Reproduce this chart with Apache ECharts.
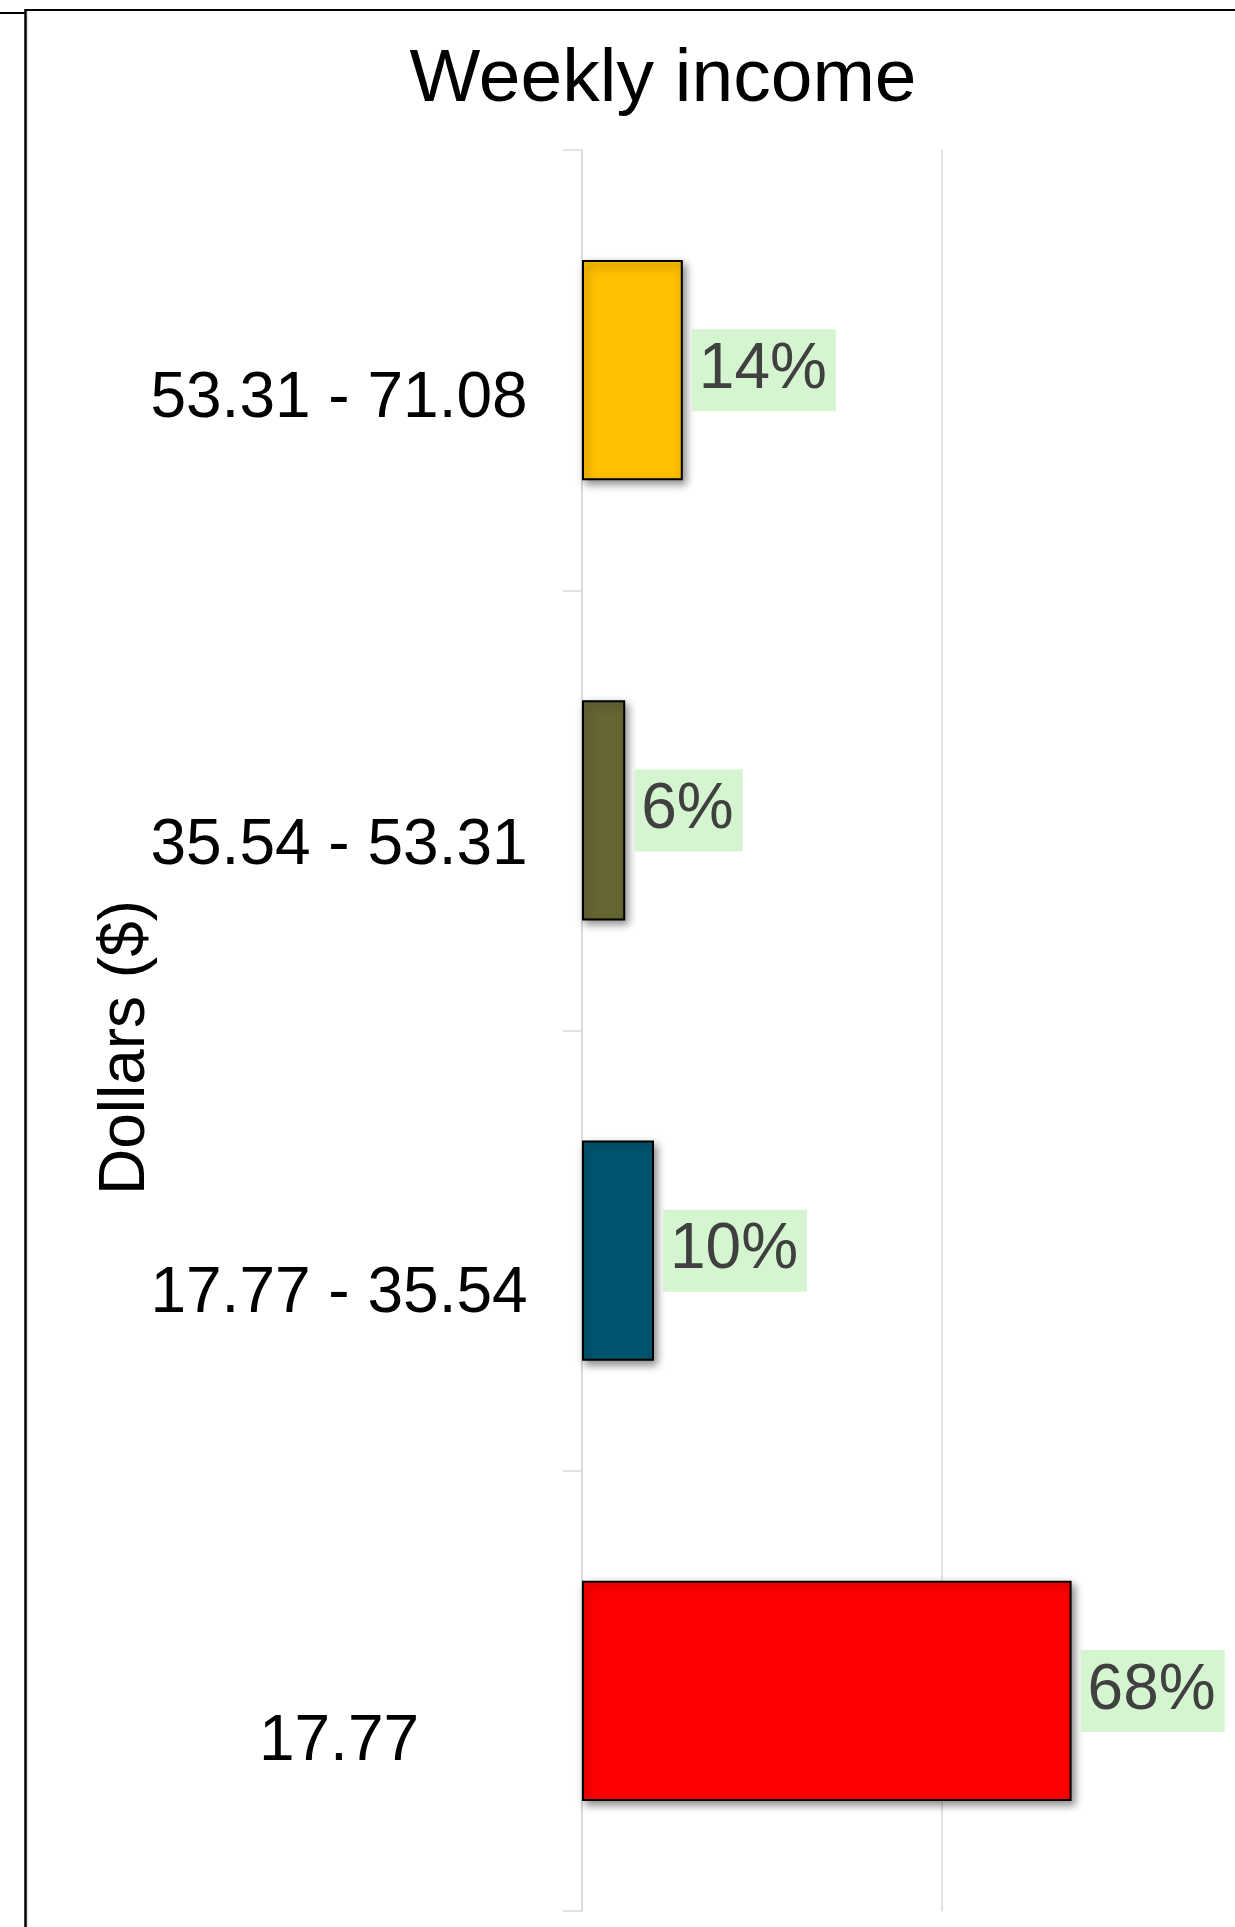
<!DOCTYPE html>
<html>
<head>
<meta charset="utf-8">
<title>Weekly income</title>
<script src="https://cdn.jsdelivr.net/npm/echarts@6/dist/echarts.min.js"></script>
<style>
  html, body { margin: 0; padding: 0; background: #fff; }
  #chart { width: 1235px; height: 1927px; }
</style>
</head>
<body>
<div id="chart"></div>
<script>
// Income brackets, listed top to bottom
const categories = ['53.31 - 71.08', '35.54 - 53.31', '17.77 - 35.54', '17.77'];
// Share of respondents in each bracket (%)
const shares = [14, 6, 10, 68];
const barColors = ['#FFC000', '#666633', '#00566F', '#FF0000'];
// Downward nudge of each bracket label (px)
const labelNudge = [29, 36, 44, 51];
const valueTicks = [0, 50, 100];

const FONT = '"Liberation Sans", Arial, sans-serif';

// one rich style per bracket label so each can sit at its own offset
const bracketRich = {};
labelNudge.forEach((n, i) => {
  bracketRich['n' + i] = {
    fontFamily: FONT,
    fontSize: 64,
    color: '#000000',
    align: 'center',
    padding: [n * 2, 0, 0, 0]
  };
});

const chart = echarts.init(document.getElementById('chart'), null, { renderer: 'canvas' });

chart.setOption({
  backgroundColor: '#ffffff',
  animation: false,
  title: {
    text: 'Weekly income',
    left: 663,
    top: 43,
    textAlign: 'center',
    padding: 0,
    textStyle: { fontFamily: FONT, fontSize: 75, fontWeight: 'normal', color: '#000000' }
  },
  grid: { left: 582, right: -67, top: 150, bottom: 16, containLabel: false, outerBoundsMode: 'none' },
  xAxis: {
    type: 'value',
    min: valueTicks[0],
    max: valueTicks[valueTicks.length - 1],
    interval: valueTicks[1] - valueTicks[0],
    axisLine: { show: false },
    axisTick: { show: false },
    axisLabel: { show: false },
    splitLine: { show: true, lineStyle: { color: '#d9d9d9', width: 1.5 } }
  },
  yAxis: {
    type: 'category',
    inverse: true,
    data: categories,
    name: 'Dollars ($)',
    nameLocation: 'middle',
    nameRotate: 90,
    nameGap: 424,
    nameMoveOverlap: false,
    nameTextStyle: { fontFamily: FONT, fontSize: 64, color: '#000000', padding: [0, 34, 0, 0] },
    axisLine: { show: true, lineStyle: { color: '#d9d9d9', width: 1.5 } },
    axisTick: { show: true, length: 19, lineStyle: { color: '#d9d9d9', width: 1.5 } },
    axisLabel: {
      margin: 243,
      align: 'center',
      fontFamily: FONT,
      fontSize: 64,
      color: '#000000',
      formatter: (value, index) => '{n' + index + '|' + value + '}',
      rich: bracketRich
    }
  },
  series: [{
    type: 'bar',
    barWidth: '50%',
    data: shares.map((v, i) => ({ value: v, itemStyle: { color: barColors[i] } })),
    itemStyle: {
      borderColor: '#000000',
      borderWidth: 2,
      shadowColor: 'rgba(0,0,0,0.45)',
      shadowBlur: 8,
      shadowOffsetX: 3,
      shadowOffsetY: 4
    },
    label: {
      show: true,
      position: 'right',
      distance: 9,
      formatter: '{c}%',
      fontFamily: FONT,
      fontSize: 64,
      color: '#404040',
      backgroundColor: '#D5F5D0',
      padding: [9, 9, 9, 7]
    }
  }],
  graphic: [
    // frame edges around the plot
    { type: 'line', shape: { x1: 25, y1: 10, x2: 1235, y2: 10 }, style: { stroke: '#000', lineWidth: 2 }, silent: true },
    { type: 'line', shape: { x1: 25.5, y1: 9, x2: 25.5, y2: 1927 }, style: { stroke: '#000', lineWidth: 2.5 }, silent: true },
    { type: 'line', shape: { x1: 0, y1: 13, x2: 25, y2: 13 }, style: { stroke: '#000', lineWidth: 2 }, silent: true },
    { type: 'line', shape: { x1: 27.5, y1: 11, x2: 27.5, y2: 1927 }, style: { stroke: '#e0e0e0', lineWidth: 1 }, silent: true }
  ]
});
</script>
</body>
</html>
